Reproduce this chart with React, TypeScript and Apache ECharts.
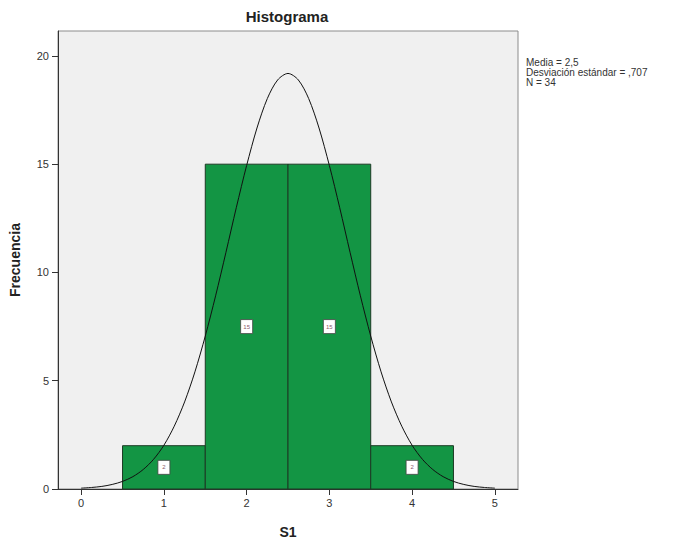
import React, { useEffect, useRef } from "react";
import * as echarts from "echarts";

const titleText = "Histograma";
const xName = "S1";
const yName = "Frecuencia";
const statsLines = ["Media = 2,5", "Desviación estándar = ,707", "N = 34"];

const binStart = [0.5, 1.5, 2.5, 3.5];
const binEnd = [1.5, 2.5, 3.5, 4.5];
const binCount = [2, 15, 15, 2];

const curveX = [
  0, 0.125, 0.25, 0.375, 0.5, 0.625, 0.75, 0.875, 1, 1.125, 1.25, 1.375, 1.5, 1.625, 1.75, 1.875, 2, 2.125, 2.25, 2.375,
  2.5, 2.625, 2.75, 2.875, 3, 3.125, 3.25, 3.375, 3.5, 3.625, 3.75, 3.875, 4, 4.125, 4.25, 4.375, 4.5, 4.625, 4.75, 4.875, 5,
];
const curveY = [
  0.04, 0.07, 0.12, 0.21, 0.35, 0.57, 0.9, 1.37, 2.02, 2.9, 4.02, 5.41, 7.06, 8.92, 10.93, 12.99, 14.94, 16.67, 18.03, 18.89,
  19.19, 18.89, 18.03, 16.67, 14.94, 12.99, 10.93, 8.92, 7.06, 5.41, 4.02, 2.9, 2.02, 1.37, 0.9, 0.57, 0.35, 0.21, 0.12, 0.07, 0.04,
];

const xTicks = [0, 1, 2, 3, 4, 5];
const yTicks = [0, 5, 10, 15, 20];

const FONT = "Arial, 'Liberation Sans', sans-serif";

export default function App() {
  const ref = useRef<HTMLDivElement>(null);
  useEffect(() => {
    if (!ref.current) return;
    const chart = echarts.init(ref.current, null, { renderer: "svg" });
    const barData = binStart.map((s, i) => [s, binEnd[i], binCount[i]]);
    const curveData = curveX.map((x, i) => [x, curveY[i]]);
    chart.setOption({
      animation: false,
      backgroundColor: "#ffffff",
      textStyle: { fontFamily: FONT },
      grid: {
        left: 57,
        right: 161,
        top: 31,
        bottom: 54,
        show: true,
        backgroundColor: "#f0f0f0",
        borderColor: "#8c8c8c",
        borderWidth: 1,
      },
      xAxis: {
        type: "value",
        min: -0.28,
        max: 5.28,
        name: xName,
        nameLocation: "middle",
        nameGap: 36,
        nameTextStyle: { fontFamily: FONT, fontSize: 14, fontWeight: "bold", color: "#222" },
        splitLine: { show: false },
        axisLine: { show: true, onZero: false, lineStyle: { color: "#333", width: 1 } },
        axisTick: { show: true, length: 6, customValues: xTicks, lineStyle: { color: "#333" } },
        axisLabel: { customValues: xTicks, fontSize: 11, color: "#333", margin: 8, fontFamily: FONT },
      },
      yAxis: {
        type: "value",
        min: 0,
        max: 21.15,
        name: yName,
        nameLocation: "middle",
        nameGap: 36,
        nameTextStyle: { fontFamily: FONT, fontSize: 14, fontWeight: "bold", color: "#222" },
        splitLine: { show: false },
        axisLine: { show: true, onZero: false, lineStyle: { color: "#333", width: 1 } },
        axisTick: { show: true, inside: false, length: 6, customValues: yTicks, lineStyle: { color: "#333" } },
        axisLabel: { customValues: yTicks, fontSize: 11, color: "#333", margin: 9, fontFamily: FONT },
      },
      graphic: [
        {
          type: "text",
          x: 287,
          y: 9,
          style: {
            text: titleText,
            font: `bold 15px ${FONT}`,
            fill: "#222",
            textAlign: "center",
          },
        },
        {
          type: "text",
          x: 526,
          y: 57,
          style: {
            text: statsLines.join("\n"),
            font: `10px ${FONT}`,
            lineHeight: 10,
            fill: "#333",
          },
        },
      ],
      series: [
        {
          type: "custom",
          data: barData,
          encode: { x: [0, 1], y: 2 },
          renderItem: (params: any, api: any) => {
            const s = api.value(0);
            const e = api.value(1);
            const c = api.value(2);
            const p0 = api.coord([s, c]);
            const p1 = api.coord([e, 0]);
            const mid = api.coord([(s + e) / 2, c / 2]);
            return {
              type: "group",
              children: [
                {
                  type: "rect",
                  shape: { x: p0[0], y: p0[1], width: p1[0] - p0[0], height: p1[1] - p0[1] },
                  style: { fill: "#139544", stroke: "#1c3a24", lineWidth: 1 },
                },
                {
                  type: "rect",
                  shape: { x: mid[0] - 6, y: mid[1] - 7, width: 12, height: 14 },
                  style: { fill: "#ffffff", stroke: "#444", lineWidth: 0.8 },
                },
                {
                  type: "text",
                  x: mid[0],
                  y: mid[1],
                  style: {
                    text: String(c),
                    font: `6px ${FONT}`,
                    fill: "#8a5a6a",
                    textAlign: "center",
                    textVerticalAlign: "middle",
                  },
                },
              ],
            };
          },
        },
        {
          type: "line",
          data: curveData,
          smooth: 0.3,
          showSymbol: false,
          symbol: "none",
          lineStyle: { color: "#111", width: 1 },
          z: 5,
        },
      ],
    });
    return () => chart.dispose();
  }, []);
  return (
    <div
      ref={ref}
      style={{ position: "fixed", left: 0, top: 0, width: 679, height: 544, background: "#fff" }}
    />
  );
}
